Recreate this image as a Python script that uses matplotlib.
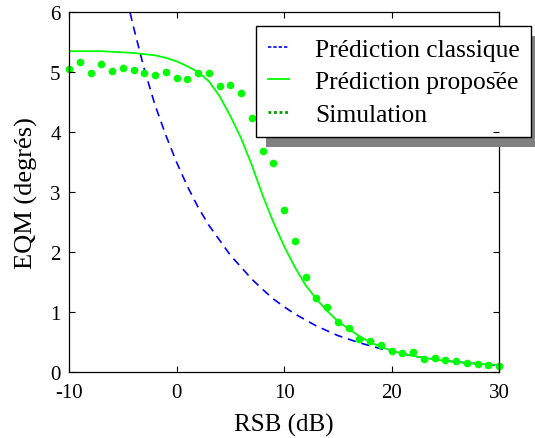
import numpy as np
import matplotlib
matplotlib.use('Agg')
import matplotlib.pyplot as plt
from matplotlib.lines import Line2D

plt.rcParams['font.family'] = ['Liberation Serif', 'DejaVu Serif']
plt.rcParams['axes.unicode_minus'] = False

# Prédiction classique (courbe en tirets)
rsbClassique = list(range(-5, 31))
eqmClassique = [6.5, 5.75, 5.05, 4.45, 3.95, 3.5, 3.1, 2.75, 2.45, 2.2,
                1.95, 1.75, 1.55, 1.38, 1.22, 1.09, 0.97, 0.87, 0.77, 0.69,
                0.61, 0.55, 0.49, 0.44, 0.39, 0.35, 0.31, 0.27, 0.24, 0.22,
                0.19, 0.17, 0.155, 0.14, 0.12, 0.11]

# Prédiction proposée (trait plein)
rsbPropose = list(range(-10, 31))
eqmPropose = [5.35, 5.35, 5.35, 5.35, 5.34, 5.33, 5.32, 5.3, 5.28, 5.24,
              5.18, 5.1, 5.0, 4.85, 4.6, 4.27, 3.9, 3.45, 2.95, 2.5,
              2.1, 1.75, 1.45, 1.22, 1.02, 0.85, 0.72, 0.6, 0.5, 0.42,
              0.36, 0.31, 0.27, 0.24, 0.21, 0.19, 0.17, 0.15, 0.14, 0.13,
              0.12]

# Simulation (points)
rsbSimu = list(range(-10, 31))
eqmSimu = [5.05, 5.17, 4.98, 5.13, 5.02, 5.07, 5.03, 4.98, 4.95, 5.0,
           4.9, 4.88, 4.98, 4.98, 4.77, 4.78, 4.65, 4.23, 3.68, 3.48,
           2.7, 2.18, 1.58, 1.23, 1.08, 0.83, 0.73, 0.55, 0.52, 0.45,
           0.35, 0.32, 0.33, 0.22, 0.23, 0.2, 0.18, 0.15, 0.13, 0.12,
           0.1]

xTicks = [-10, 0, 10, 20, 30]
yTicks = [0, 1, 2, 3, 4, 5, 6]

fig = plt.figure(figsize=(5.35, 4.39), dpi=100)
ax = fig.add_axes([0.129, 0.150, 0.804, 0.820])

ax.plot(rsbClassique, eqmClassique, color='#0000ff', linestyle=(0, (5, 3.5)),
        linewidth=1.2)
ax.plot(rsbPropose, eqmPropose, color='#00ff00', linewidth=1.3)
ax.plot(rsbSimu, eqmSimu, linestyle='none', marker='o', markersize=5.5,
        color='#00ff00', markeredgewidth=0, clip_on=False)

ax.set_xlim(-10, 30)
ax.set_ylim(0, 6)
ax.set_xticks(xTicks)
ax.set_yticks(yTicks)
ax.tick_params(direction='in', length=4, width=0.8, top=True, right=True,
               labelsize=15)
ax.tick_params(axis='x', pad=8)
ax.tick_params(axis='y', pad=6)
ax.set_xlabel('RSB (dB)', fontsize=18, labelpad=8)
ax.set_ylabel('EQM (degrés)', fontsize=19, labelpad=9)
for s in ax.spines.values():
    s.set_linewidth(0.9)

handles = [Line2D([], [], color='#0000ff', linestyle=(0, (2, 1.2)), linewidth=1.2),
           Line2D([], [], color='#00ff00', linewidth=1.3),
           Line2D([], [], color='#009900', linestyle=(0, (1, 1)), linewidth=2)]
labels = ['Prédiction classique', 'Prédiction proposée', 'Simulation']
leg = ax.legend(handles, labels, loc='upper left', bbox_to_anchor=(0.435, 0.961),
                fontsize=18.4, frameon=True, fancybox=False, framealpha=1,
                edgecolor='black', handlelength=0.85, handletextpad=1.0,
                borderpad=0.45, labelspacing=0.38, borderaxespad=0,
                shadow={'ox': 7, 'oy': -7, 'facecolor': '#808080',
                        'edgecolor': 'none', 'alpha': 1})
leg.get_frame().set_linewidth(1.0)
leg.set_zorder(3)
ax.yaxis.set_zorder(4)

fig.savefig('out.png', dpi=100)
